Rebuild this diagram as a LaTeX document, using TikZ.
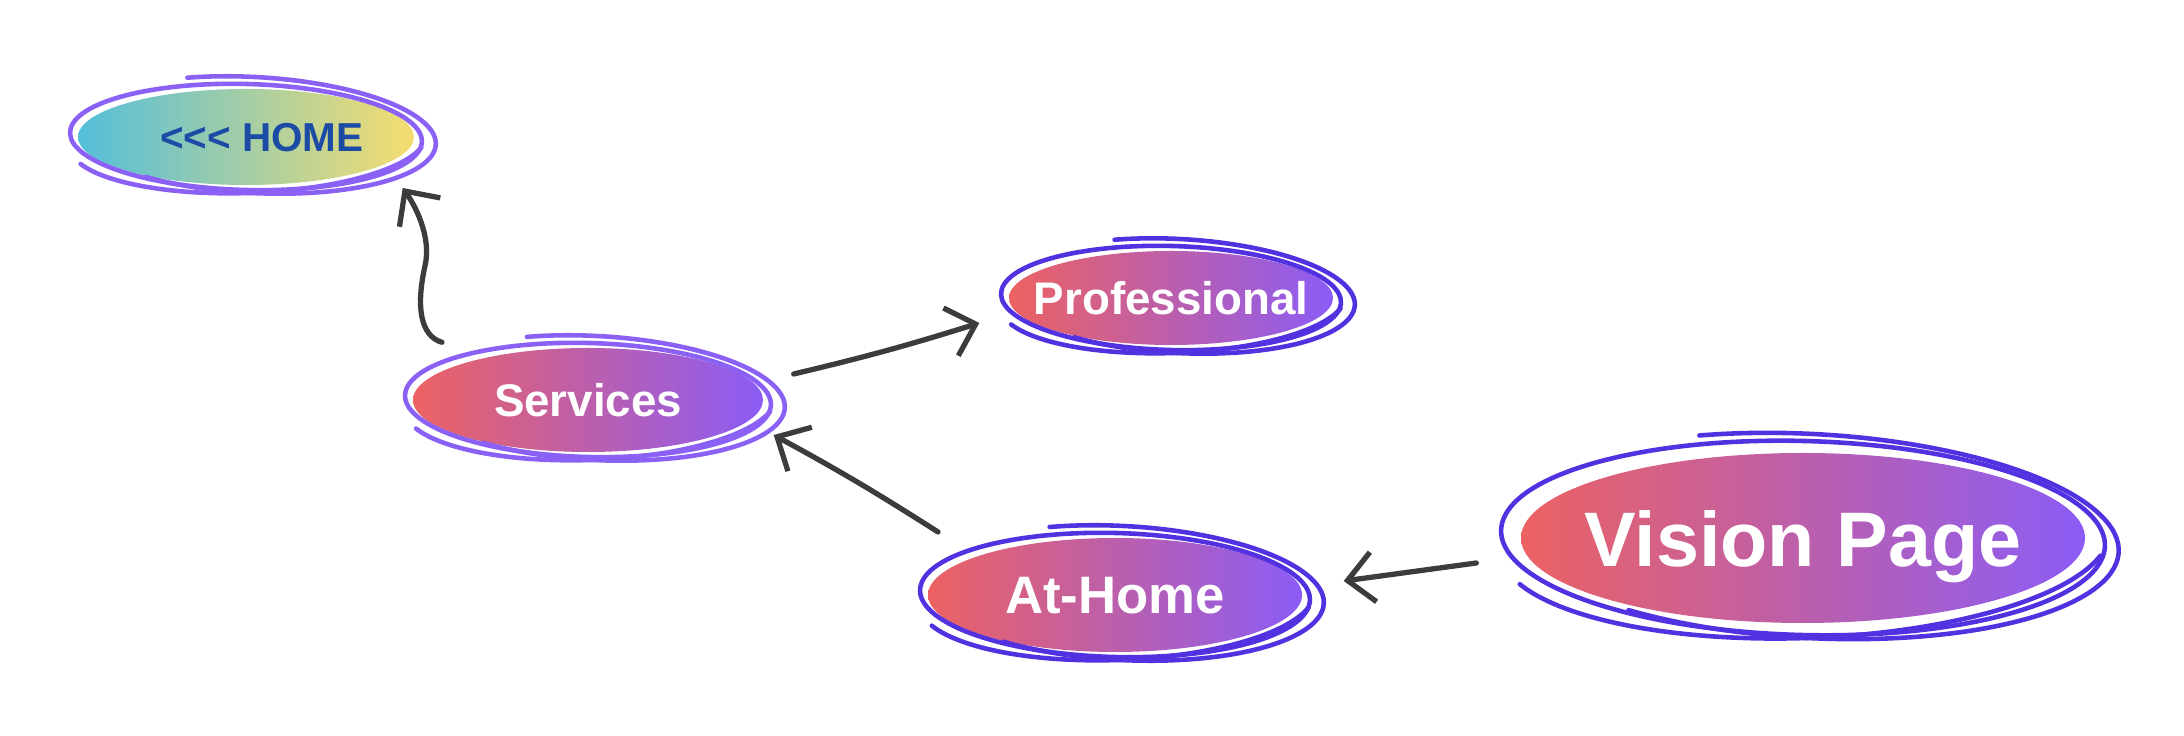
\documentclass[tikz,border=0pt]{standalone}
\usepackage{fontspec}
\setmainfont{Liberation Sans}[Ligatures=TeXOff]
\usetikzlibrary{shapes.geometric, arrows.meta, positioning, calc}
\definecolor{homeCyan}{RGB}{84,190,218}
\definecolor{homeYellow}{RGB}{245,221,112}
\definecolor{homeText}{RGB}{28,75,166}
\definecolor{pageRed}{RGB}{236,98,98}
\definecolor{pageViolet}{RGB}{139,92,246}
\definecolor{ringLight}{RGB}{139,97,245}
\definecolor{ringDeep}{RGB}{82,50,224}
\definecolor{arrowGray}{RGB}{60,60,60}

% sketchy loops round a bubble: node, x radius, y radius, colour
\newcommand{\sketchring}[4]{%
  \begin{scope}[shift={(#1.center)}, rotate=-1.5]
    \draw[ring, #4] (80:{#2+8} and {#3+5}) arc[start angle=80, end angle=452, x radius=#2+8, y radius=#3+5];
  \end{scope}
  \begin{scope}[shift={(#1.center)}, shift={(7,2)}, rotate=-3]
    \draw[ring, #4] (112:{#2+15} and {#3+10}) arc[start angle=112, end angle=-125, x radius=#2+15, y radius=#3+10];
  \end{scope}
  \begin{scope}[shift={(#1.center)}, shift={(2,-3)}, rotate=2]
    \draw[ring, #4] (-15:{#2+11} and {#3+5}) arc[start angle=-15, end angle=-160, x radius=#2+11, y radius=#3+5];
  \end{scope}
}
\newcommand{\lbl}[1]{\makebox[0pt]{#1}}

\begin{document}
\begin{tikzpicture}[
    x=0.1mm, y=0.1mm,
    bubble/.style={ellipse, inner sep=0pt, text depth=0pt, text=white,
                   left color=pageRed, right color=pageViolet},
    ring/.style={line width=1.3pt, line cap=round},
    arr/.style={-{Straight Barb[length=2.6mm, width=5mm]}, line width=1.5pt,
                arrowGray, line cap=round, line join=round}
  ]
    \useasboundingbox (0,0) rectangle (2184,736);

    \node[bubble, minimum width=3.36cm, minimum height=0.96cm,
          left color=homeCyan, right color=homeYellow, text=homeText,
          font=\bfseries\fontsize{11.5}{12}\selectfont] (home) at (246,599)
      {\lbl{\hspace*{0.32cm}<<< HOME}};
    \node[bubble, minimum width=3.5cm, minimum height=1.04cm,
          font=\bfseries\fontsize{13}{14}\selectfont] (serv) at (588,336) {\lbl{Services}};
    \node[bubble, minimum width=3.24cm, minimum height=0.94cm,
          font=\bfseries\fontsize{13}{14}\selectfont] (prof) at (1171,438) {\lbl{Professional}};
    \node[bubble, minimum width=3.74cm, minimum height=1.14cm,
          font=\bfseries\fontsize{15}{16}\selectfont] (atho) at (1115,141) {\lbl{At-Home}};
    \node[bubble, minimum width=5.64cm, minimum height=1.7cm,
          font=\bfseries\fontsize{22}{24}\selectfont] (vis) at (1803,198) {\lbl{Vision Page}};

    \sketchring{home}{168}{48}{ringLight}
    \sketchring{serv}{175}{52}{ringLight}
    \sketchring{prof}{162}{47}{ringDeep}
    \sketchring{atho}{187}{57}{ringDeep}
    \sketchring{vis}{294}{92}{ringDeep}

    \draw[arr] ([shift={(-146,5)}]serv.north) .. controls (420,400) and (416,430) .. (425,470)
      .. controls (432,500) and (414,532) .. ([shift={(-12,-51)}]home.east);
    \draw[arr] ([shift={(30,26)}]serv.east) to[bend right=2] ([shift={(-29,-25)}]prof.west);
    \draw[arr] ([shift={(-177,63)}]atho.center) to[bend right=2] ([shift={(10,-35)}]serv.east);
    \draw[arr] ([shift={(-44,-25)}]vis.west) -- ([shift={(41,14)}]atho.east);
  \end{tikzpicture}
\end{document}
